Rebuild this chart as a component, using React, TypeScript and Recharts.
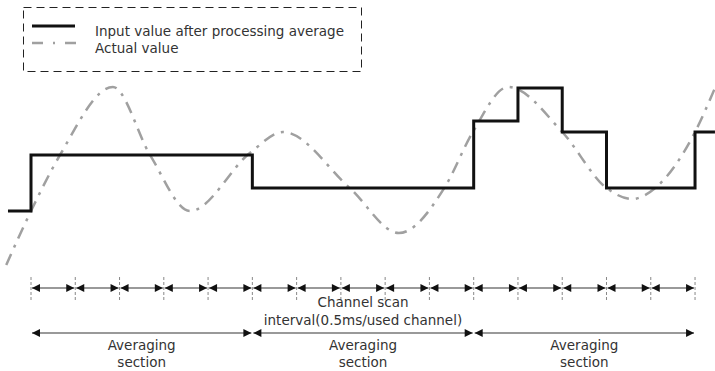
import React from 'react';
import { LineChart, Line, XAxis, YAxis, ReferenceLine } from 'recharts';

// x is in scan-interval units (tick 0..15), y is a level in arbitrary units
const stepX = [-0.52, 0, 5, 10, 11, 12, 13, 15, 15.45];
const stepLevels = [59, 115, 82, 149, 182, 138, 82, 138, 138];

const actualX = [-0.56, 0, 0.655, 1.85, 2.69, 3.59, 4.97, 5.69, 7.2, 8.31, 9.35, 9.98, 10.78, 12.0, 13.0, 13.58, 14.1, 15.0, 15.45];
const actualLevels = [5, 59, 115, 183, 115, 59, 118, 138, 82, 37, 83, 138, 183, 138, 82, 71, 82, 138, 182];

const scanTicks = [0, 1, 2, 3, 4, 5, 6, 7, 8, 9, 10, 11, 12, 13, 14, 15];
const sections = [
  [0, 5],
  [5, 10],
  [10, 15],
];
const sectionLabel = ['Averaging', 'section'];
const scanLabel = ['Channel scan', 'interval(0.5ms/used channel)'];
const legendLabels = ['Input value after processing average', 'Actual value'];

const stepData = stepX.map((x, i) => ({ x, v: stepLevels[i] }));
const actualData = actualX.map((x, i) => ({ x, v: actualLevels[i] }));

const FONT = '"DejaVu Sans", sans-serif';
const TEXT = '#333';
const SCAN_Y = -18;
const SECTION_Y = -63;

function arrowHead(x: number, y: number, dir: number, key: string) {
  // dir = -1 points left, 1 points right
  const b = x - dir * 8;
  return <path key={key} d={`M${x},${y} L${b},${y - 4} L${b},${y + 4} Z`} fill="#111" />;
}

function DoubleArrow(p: any, labels?: string[]) {
  const { x1, x2, y1 } = p;
  const l = x1 + 1;
  const r = x2 - 1;
  return (
    <g>
      <line x1={l} y1={y1} x2={r} y2={y1} stroke="#777" strokeWidth={1.5} />
      {arrowHead(l, y1, -1, 'l')}
      {arrowHead(r, y1, 1, 'r')}
      {labels &&
        labels.map((t, i) => (
          <text
            key={t}
            x={(x1 + x2) / 2}
            y={y1 + 12 + i * 17}
            textAnchor="middle"
            dominantBaseline="central"
            fontFamily={FONT}
            fontSize={13.5}
            fill={TEXT}
          >
            {t}
          </text>
        ))}
    </g>
  );
}

function ScanText(p: any) {
  const { x1, y1 } = p;
  return (
    <g>
      {scanLabel.map((t, i) => (
        <text
          key={t}
          x={x1}
          y={y1 + i * 18}
          textAnchor="middle"
          dominantBaseline="central"
          fontFamily={FONT}
          fontSize={13.5}
          fill={TEXT}
        >
          {t}
        </text>
      ))}
    </g>
  );
}

function LegendBox() {
  return (
    <svg width={715} height={80} style={{ position: 'absolute', left: 0, top: 0, pointerEvents: 'none' }}>
      <rect x={23.5} y={7.5} width={338} height={64} fill="none" stroke="#222" strokeWidth={1} strokeDasharray="8 5" />
      <line x1={32} y1={26} x2={75} y2={26} stroke="#111" strokeWidth={3} />
      <line x1={32} y1={43} x2={77} y2={43} stroke="#a0a0a0" strokeWidth={2.5} strokeDasharray="11 10 2 10" />
      {legendLabels.map((t, i) => (
        <text
          key={t}
          x={95}
          y={31 + i * 17}
          dominantBaseline="central"
          fontFamily={FONT}
          fontSize={13.5}
          fill={TEXT}
        >
          {t}
        </text>
      ))}
    </svg>
  );
}

export default function App() {
  return (
    <div style={{ position: 'absolute', left: 0, top: 0, width: 715, height: 371, background: '#fff' }}>
      <LineChart width={715} height={371} margin={{ top: 0, right: 0, bottom: 0, left: 0 }}>
        <XAxis type="number" dataKey="x" domain={[-0.7003, 15.451]} hide allowDataOverflow />
        <YAxis type="number" dataKey="v" domain={[-101, 270]} hide allowDataOverflow />

        {scanTicks.map((k) => (
          <ReferenceLine
            key={`t${k}`}
            segment={[{ x: k, y: -7 }, { x: k, y: -30 }]}
            stroke="#888"
            strokeWidth={1}
            strokeDasharray="3 2"
          />
        ))}
        {scanTicks.slice(0, -1).map((k) => (
          <ReferenceLine
            key={`a${k}`}
            segment={[{ x: k, y: SCAN_Y }, { x: k + 1, y: SCAN_Y }]}
            shape={(p: any) => DoubleArrow(p)}
          />
        ))}
        <ReferenceLine segment={[{ x: 7.5, y: -32 }, { x: 7.5, y: -40 }]} shape={ScanText} />
        {sections.map(([a, b]) => (
          <ReferenceLine
            key={`s${a}`}
            segment={[{ x: a, y: SECTION_Y }, { x: b, y: SECTION_Y }]}
            shape={(p: any) => DoubleArrow(p, sectionLabel)}
          />
        ))}

        <Line
          data={actualData}
          dataKey="v"
          type="monotone"
          stroke="#a0a0a0"
          strokeWidth={2.5}
          strokeDasharray="12 7 3 7"
          dot={false}
          activeDot={false}
          isAnimationActive={false}
        />
        <Line
          data={stepData}
          dataKey="v"
          type="stepAfter"
          stroke="#111"
          strokeWidth={3}
          dot={false}
          activeDot={false}
          isAnimationActive={false}
        />
      </LineChart>
      <LegendBox />
    </div>
  );
}
